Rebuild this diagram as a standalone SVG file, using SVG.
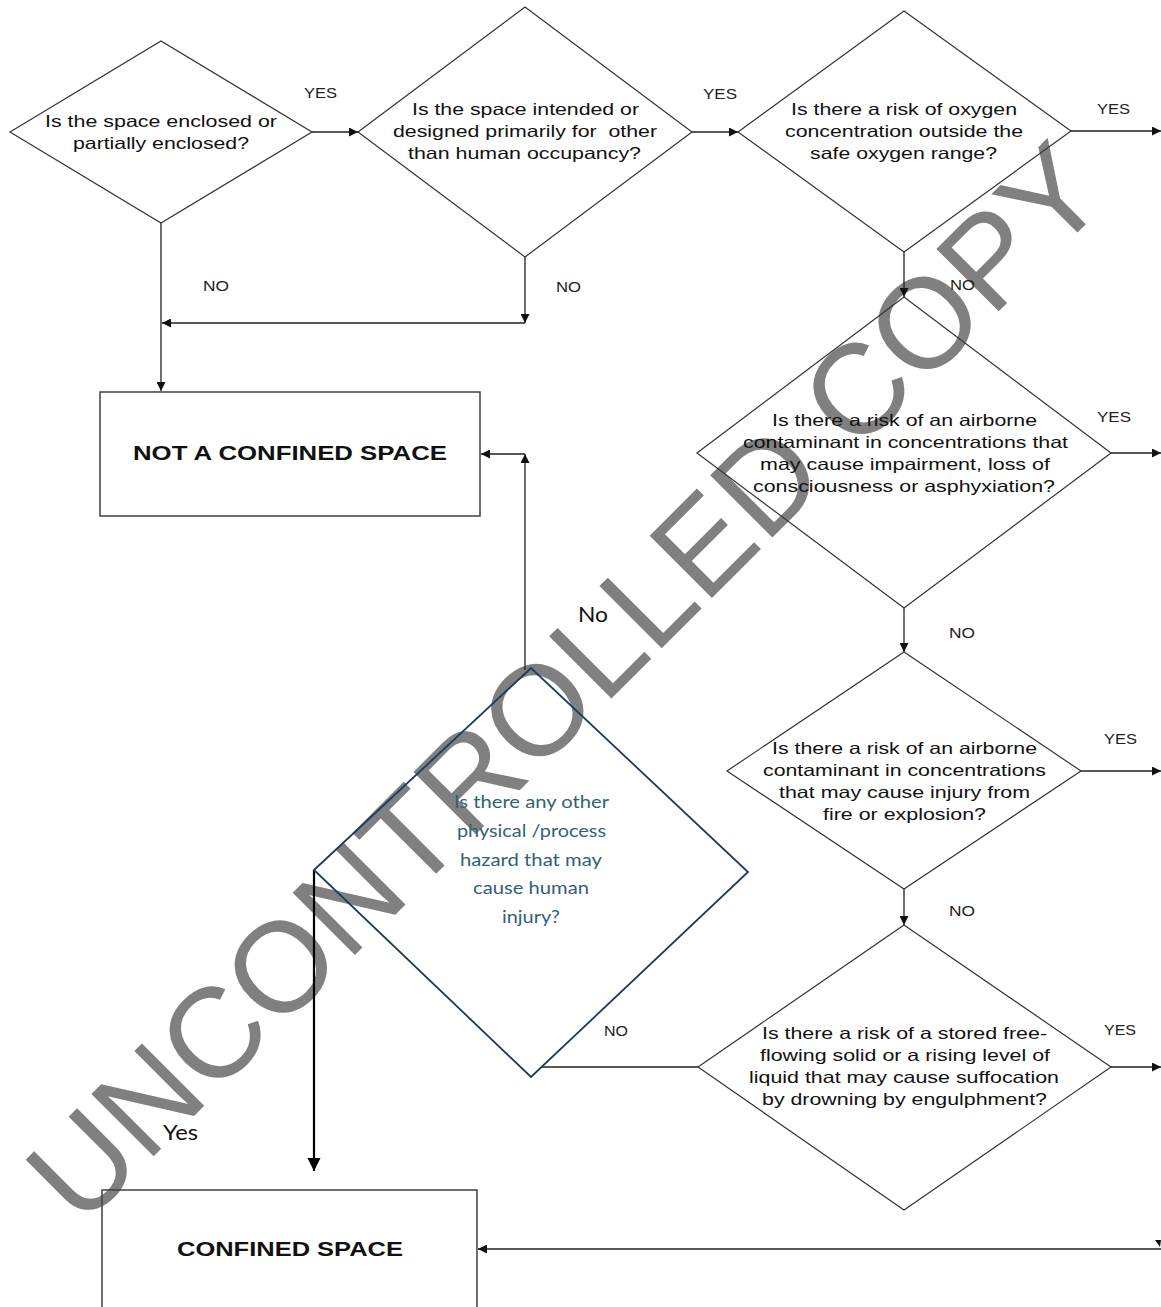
<svg xmlns="http://www.w3.org/2000/svg" width="1161" height="1307" viewBox="0 0 1161 1307">
<style>
.bg{fill:#ffffff}
.wm{font-family:"Liberation Sans",Arial,sans-serif;font-size:128px;fill:#808080}
.d{fill:none;stroke:#333333;stroke-width:1.2}
.d7{fill:none;stroke:#1f3a5c;stroke-width:1.8}
.box{fill:none;stroke:#404040;stroke-width:1.5}
.t{font-family:"Liberation Sans",Arial,sans-serif;font-size:16.5px;fill:#111111;text-anchor:middle;white-space:pre}
.tb{font-family:"Liberation Sans",Arial,sans-serif;font-size:21px;font-weight:bold;fill:#111111;text-anchor:middle}
.tc{font-family:Lato,"Open Sans",sans-serif;font-size:18px;fill:#2f6373;text-anchor:middle}
.lb{font-family:"Liberation Sans",Arial,sans-serif;font-size:14px;fill:#222222;text-anchor:middle}
.lc{font-family:Lato,"Open Sans",sans-serif;font-size:21px;fill:#111111;text-anchor:middle}
.c{fill:none;stroke:#222222;stroke-width:1.3}
.cy{fill:none;stroke:#000000;stroke-width:2.2}
</style>
<defs>
<marker id="ah" viewBox="0 0 10 10" refX="10" refY="5" markerWidth="10" markerHeight="9" markerUnits="userSpaceOnUse" orient="auto">
<path d="M0,0 L10,5 L0,10 z" fill="#111111"/>
</marker>
<marker id="ahb" viewBox="0 0 10 10" refX="10" refY="5" markerWidth="13" markerHeight="14" markerUnits="userSpaceOnUse" orient="auto">
<path d="M0,0 L10,5 L0,10 z" fill="#000000"/>
</marker>
</defs>
<rect class="bg" x="0" y="0" width="1161" height="1307"/>
<text class="wm" transform="translate(81,1229) rotate(-45)">UNCONTROLLED COPY</text>

<g id="connectors">
<line class="c" x1="312" y1="132" x2="358" y2="132" marker-end="url(#ah)"/>
<line class="c" x1="692" y1="132" x2="738" y2="132" marker-end="url(#ah)"/>
<line class="c" x1="1071" y1="131" x2="1161" y2="131" marker-end="url(#ah)"/>
<line class="c" x1="161" y1="223" x2="161" y2="391" marker-end="url(#ah)"/>
<line class="c" x1="525" y1="257" x2="525" y2="323" marker-end="url(#ah)"/>
<line class="c" x1="525" y1="323" x2="162" y2="323" marker-end="url(#ah)"/>
<line class="c" x1="904" y1="252" x2="904" y2="297" marker-end="url(#ah)"/>
<line class="c" x1="1111" y1="453" x2="1161" y2="453" marker-end="url(#ah)"/>
<line class="c" x1="904" y1="608" x2="904" y2="652" marker-end="url(#ah)"/>
<line class="c" x1="1081" y1="771" x2="1161" y2="771" marker-end="url(#ah)"/>
<line class="c" x1="904" y1="889" x2="904" y2="925" marker-end="url(#ah)"/>
<line class="c" x1="1111" y1="1067" x2="1161" y2="1067" marker-end="url(#ah)"/>
<line class="c" x1="525" y1="670" x2="525" y2="454" marker-end="url(#ah)"/>
<line class="c" x1="525" y1="454" x2="481" y2="454" marker-end="url(#ah)"/>
<line class="c" x1="541" y1="1067" x2="698" y2="1067"/>
<line class="cy" x1="314" y1="870" x2="314" y2="1171" marker-end="url(#ahb)"/>
<line class="c" x1="1161" y1="1249" x2="478" y2="1249" marker-end="url(#ah)"/>
<path d="M1155,1240 L1161,1240 L1160,1247 z" fill="#111111"/>
</g>

<g id="d1">
<polygon class="d" points="10,132 161,41 312,132 161,223"/>
<text class="t" x="161" y="127" textLength="232" lengthAdjust="spacingAndGlyphs">Is the space enclosed or</text>
<text class="t" x="161" y="149" textLength="176" lengthAdjust="spacingAndGlyphs">partially enclosed?</text>
</g>
<g id="d2">
<polygon class="d" points="358,132 525,7 692,132 525,257"/>
<text class="t" x="525.5" y="115" textLength="227" lengthAdjust="spacingAndGlyphs">Is the space intended or</text>
<text class="t" x="525" y="137" textLength="264" lengthAdjust="spacingAndGlyphs">designed primarily for  other</text>
<text class="t" x="524.5" y="159" textLength="233" lengthAdjust="spacingAndGlyphs">than human occupancy?</text>
</g>
<g id="d3">
<polygon class="d" points="738,132 904,11 1071,131 904,252"/>
<text class="t" x="904" y="115" textLength="226" lengthAdjust="spacingAndGlyphs">Is there a risk of oxygen</text>
<text class="t" x="904" y="137" textLength="238" lengthAdjust="spacingAndGlyphs">concentration outside the</text>
<text class="t" x="903.5" y="159" textLength="187" lengthAdjust="spacingAndGlyphs">safe oxygen range?</text>
</g>
<g id="d4">
<polygon class="d" points="697,453 904,297 1111,453 904,608"/>
<text class="t" x="904.5" y="426" textLength="265" lengthAdjust="spacingAndGlyphs">Is there a risk of an airborne</text>
<text class="t" x="905.5" y="448" textLength="325" lengthAdjust="spacingAndGlyphs">contaminant in concentrations that</text>
<text class="t" x="905" y="470" textLength="290" lengthAdjust="spacingAndGlyphs">may cause impairment, loss of</text>
<text class="t" x="904" y="492" textLength="302" lengthAdjust="spacingAndGlyphs">consciousness or asphyxiation?</text>
</g>
<g id="d5">
<polygon class="d" points="727,771 904,652 1081,771 904,889"/>
<text class="t" x="904.5" y="754" textLength="265" lengthAdjust="spacingAndGlyphs">Is there a risk of an airborne</text>
<text class="t" x="904.5" y="776" textLength="283" lengthAdjust="spacingAndGlyphs">contaminant in concentrations</text>
<text class="t" x="904.5" y="798" textLength="251" lengthAdjust="spacingAndGlyphs">that may cause injury from</text>
<text class="t" x="904.5" y="820" textLength="163" lengthAdjust="spacingAndGlyphs">fire or explosion?</text>
</g>
<g id="d6">
<polygon class="d" points="698,1067 904,925 1111,1067 904,1210"/>
<text class="t" x="904.5" y="1039" textLength="285" lengthAdjust="spacingAndGlyphs">Is there a risk of a stored free-</text>
<text class="t" x="905" y="1061" textLength="290" lengthAdjust="spacingAndGlyphs">flowing solid or a rising level of</text>
<text class="t" x="904" y="1083" textLength="310" lengthAdjust="spacingAndGlyphs">liquid that may cause suffocation</text>
<text class="t" x="904.5" y="1105" textLength="285" lengthAdjust="spacingAndGlyphs">by drowning by engulphment?</text>
</g>
<g id="d7">
<polygon class="d7" points="314,870 531,668 748,872 531,1077"/>
<text class="tc" x="531.5" y="808" textLength="155" lengthAdjust="spacingAndGlyphs">Is there any other</text>
<text class="tc" x="531.5" y="837" textLength="149" lengthAdjust="spacingAndGlyphs">physical /process</text>
<text class="tc" x="531" y="866" textLength="142" lengthAdjust="spacingAndGlyphs">hazard that may</text>
<text class="tc" x="531" y="894" textLength="116" lengthAdjust="spacingAndGlyphs">cause human</text>
<text class="tc" x="531" y="923" textLength="58" lengthAdjust="spacingAndGlyphs">injury?</text>
</g>
<g id="not-confined">
<rect class="box" x="100" y="392" width="380" height="124"/>
<text class="tb" x="290" y="460" textLength="314" lengthAdjust="spacingAndGlyphs">NOT A CONFINED SPACE</text>
</g>
<g id="confined">
<rect class="box" x="102" y="1190" width="375" height="130"/>
<text class="tb" x="290" y="1256" textLength="226" lengthAdjust="spacingAndGlyphs">CONFINED SPACE</text>
</g>

<g id="labels">
<text class="lb" x="320.5" y="98" textLength="33" lengthAdjust="spacingAndGlyphs">YES</text>
<text class="lb" x="720" y="99" textLength="34" lengthAdjust="spacingAndGlyphs">YES</text>
<text class="lb" x="1113.5" y="114" textLength="33" lengthAdjust="spacingAndGlyphs">YES</text>
<text class="lb" x="216" y="291" textLength="26" lengthAdjust="spacingAndGlyphs">NO</text>
<text class="lb" x="568.5" y="292" textLength="25" lengthAdjust="spacingAndGlyphs">NO</text>
<text class="lb" x="962.5" y="290" textLength="25" lengthAdjust="spacingAndGlyphs">NO</text>
<text class="lb" x="1114" y="422" textLength="34" lengthAdjust="spacingAndGlyphs">YES</text>
<text class="lb" x="962" y="638" textLength="26" lengthAdjust="spacingAndGlyphs">NO</text>
<text class="lb" x="1120.5" y="744" textLength="33" lengthAdjust="spacingAndGlyphs">YES</text>
<text class="lb" x="962" y="916" textLength="26" lengthAdjust="spacingAndGlyphs">NO</text>
<text class="lb" x="1120" y="1035" textLength="32" lengthAdjust="spacingAndGlyphs">YES</text>
<text class="lb" x="616" y="1036" textLength="24" lengthAdjust="spacingAndGlyphs">NO</text>
<text class="lc" x="593" y="622" textLength="30" lengthAdjust="spacingAndGlyphs">No</text>
<text class="lc" x="180.5" y="1140" textLength="35" lengthAdjust="spacingAndGlyphs">Yes</text>
</g>
</svg>
